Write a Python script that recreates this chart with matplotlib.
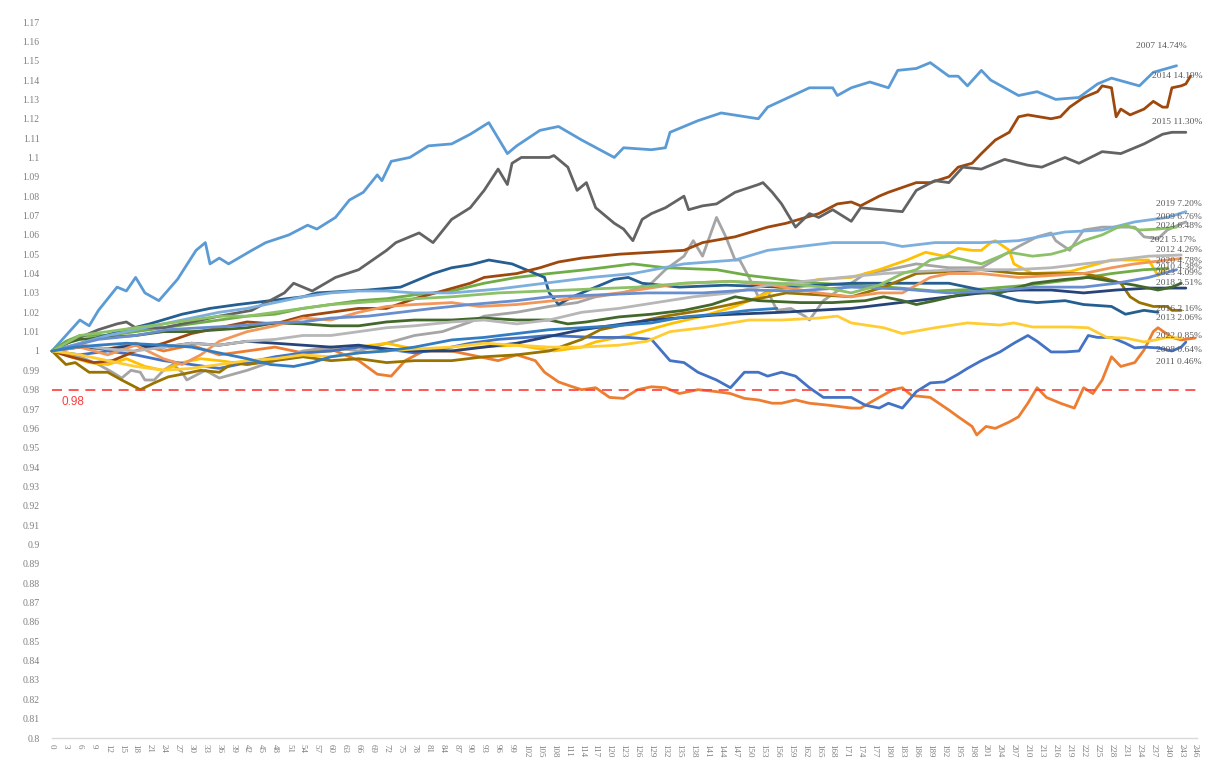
import matplotlib
matplotlib.use("Agg")
import matplotlib.pyplot as plt

# ---------------- data: (trading day, cumulative value) ----------------
y2007 = [(0,1.0),(6,1.016),(8,1.013),(10,1.021),(14,1.033),(16,1.031),(18,1.038),(20,1.03),(23,1.026),(27,1.037),
         (31,1.052),(33,1.056),(34,1.045),(36,1.048),(38,1.045),(43,1.052),(46,1.056),(51,1.06),(55,1.065),(57,1.063),
         (61,1.069),(64,1.078),(67,1.082),(70,1.091),(71,1.088),(73,1.098),(77,1.1),(81,1.106),(86,1.107),(90,1.112),
         (94,1.118),(98,1.102),(100,1.106),(105,1.114),(109,1.116),(114,1.109),(121,1.1),(123,1.105),(129,1.104),(132,1.105),
         (133,1.113),(139,1.119),(144,1.123),(152,1.12),(154,1.126),(163,1.136),(168,1.136),(169,1.132),(172,1.136),(176,1.139),
         (180,1.136),(182,1.145),(186,1.146),(189,1.149),(193,1.142),(195,1.142),(197,1.137),(200,1.145),(202,1.14),(208,1.132),
         (212,1.134),(216,1.13),(221,1.131),(225,1.138),(228,1.141),(234,1.137),(237,1.144),(242,1.1474)]
y2008 = [(0,1.0),(6,1.003),(12,1.001),(18,1.004),(24,1.0),(30,1.003),(36,0.998),(42,1.0),(48,1.002),(54,0.999),
         (60,1.001),(66,0.995),(70,0.988),(73,0.987),(76,0.995),(80,1.0),(86,1.0),(96,0.995),(100,0.998),(104,0.995),
         (106,0.989),(109,0.984),(112,0.9815),(114,0.98),(117,0.981),(120,0.976),(123,0.9755),(126,0.98),(129,0.9815),(132,0.981),
         (135,0.978),(139,0.98),(143,0.979),(146,0.978),(149,0.9755),(152,0.9747),(155,0.973),(157,0.973),(160,0.9747),(163,0.973),
         (167,0.972),(172,0.9705),(174,0.9705),(178,0.976),(181,0.98),(183,0.981),(185,0.977),(189,0.976),(193,0.9695),(195,0.966),
         (198,0.961),(199,0.9566),(201,0.961),(203,0.96),(206,0.9633),(208,0.966),(210,0.973),(212,0.981),(214,0.976),(217,0.973),
         (220,0.9705),(222,0.981),(224,0.978),(226,0.985),(228,0.997),(230,0.992),(233,0.994),(235,1.0005),(237,1.01),(238,1.012),
         (241,1.007),(243,1.0057),(246,1.0067)]
y2009 = [(0,1.0),(6,0.997),(10,0.993),(13,0.989),(15,0.986),(17,0.99),(19,0.989),(20,0.985),(22,0.985),(24,0.99),
         (26,0.993),(28,0.989),(29,0.985),(33,0.99),(36,0.986),(39,0.988),(42,0.99),(48,0.995),(54,1.0),(60,1.002),
         (66,1.0),(72,1.004),(78,1.008),(84,1.01),(90,1.015),(93,1.018),(100,1.02),(107,1.023),(113,1.025),(117,1.028),
         (123,1.03),(129,1.035),(132,1.042),(136,1.049),(138,1.057),(140,1.049),(143,1.069),(145,1.059),(147,1.047),(148,1.047),
         (150,1.038),(152,1.028),(154,1.031),(156,1.021),(159,1.022),(162,1.018),(163,1.016),(166,1.026),(169,1.031),(172,1.035),
         (175,1.04),(180,1.042),(186,1.045),(193,1.043),(200,1.043),(208,1.054),(212,1.059),(215,1.061),(216,1.057),(219,1.052),
         (222,1.0625),(226,1.064),(233,1.064),(235,1.059),(238,1.058),(240,1.0625),(244,1.0667)]
y2010 = [(0,1.0),(4,0.997),(8,0.994),(12,0.993),(16,0.996),(20,0.992),(24,0.99),(28,0.994),(32,0.996),(36,0.995),
         (42,0.993),(48,0.996),(54,0.999),(60,1.0),(66,1.002),(72,1.004),(78,1.001),(86,1.0),(92,1.002),(100,1.003),
         (108,1.0),(114,1.002),(117,1.0047),(124,1.008),(133,1.014),(140,1.018),(147,1.023),(155,1.031),(165,1.037),(172,1.038),
         (178,1.042),(184,1.047),(188,1.051),(192,1.049),(195,1.053),(198,1.052),(200,1.052),(202,1.056),(203,1.057),(206,1.052),
         (207,1.045),(211,1.04),(219,1.041),(222,1.043),(228,1.047),(233,1.047),(236,1.047),(238,1.039),(240,1.043)]
y2011 = [(0,1.0),(6,0.998),(12,1.0),(18,0.998),(24,0.995),(30,0.993),(36,0.991),(42,0.994),(48,0.997),(54,0.999),
         (60,1.0),(66,1.002),(72,1.001),(78,0.999),(84,1.001),(90,1.004),(96,1.006),(102,1.007),(107,1.008),(117,1.007),
         (124,1.007),(129,1.006),(133,0.995),(136,0.994),(139,0.989),(143,0.985),(146,0.981),(149,0.989),(152,0.989),(154,0.987),
         (157,0.989),(160,0.987),(163,0.981),(166,0.976),(172,0.976),(175,0.972),(178,0.9705),(180,0.973),(183,0.9705),(186,0.979),
         (189,0.9835),(192,0.984),(195,0.988),(197,0.991),(200,0.995),(204,0.9995),(207,1.004),(210,1.008),(212,1.005),(215,0.9995),
         (218,0.9995),(221,1.0),(223,1.008),(225,1.007),(228,1.007),(231,1.004),(233,1.0016),(235,1.002),(238,1.0016),(241,1.0),
         (243,1.002),(244,1.0046)]
y2012 = [(0,1.0),(3,1.005),(6,1.008),(12,1.008),(18,1.01),(24,1.012),(30,1.014),(36,1.016),(42,1.018),(48,1.019),
         (54,1.022),(60,1.024),(66,1.026),(72,1.027),(78,1.029),(86,1.031),(93,1.035),(100,1.038),(107,1.04),(115,1.042),
         (125,1.045),(132,1.043),(143,1.042),(150,1.039),(157,1.037),(165,1.035),(172,1.034),(180,1.033),(190,1.031),(200,1.032),
         (210,1.034),(220,1.037),(228,1.04),(235,1.042),(240,1.0426)]
y2013 = [(0,1.0),(5,1.003),(10,1.007),(16,1.011),(21,1.014),(28,1.019),(34,1.022),(40,1.024),(47,1.026),(54,1.028),
         (57,1.03),(68,1.0315),(75,1.033),(82,1.04),(86,1.043),(90,1.0445),(94,1.047),(99,1.045),(103,1.041),(106,1.038),
         (107,1.03),(109,1.024),(112,1.028),(121,1.037),(124,1.038),(127,1.035),(135,1.033),(145,1.034),(157,1.033),(165,1.034),
         (172,1.035),(180,1.035),(193,1.035),(200,1.0315),(208,1.026),(212,1.025),(218,1.026),(222,1.024),(228,1.023),(231,1.019),
         (235,1.021),(238,1.02)]
y2014 = [(0,1.0),(4,0.997),(9,0.994),(13,0.995),(18,1.0),(24,1.004),(30,1.009),(36,1.012),(42,1.015),(48,1.014),
         (54,1.018),(60,1.02),(66,1.022),(72,1.022),(78,1.027),(84,1.031),(90,1.035),(93,1.038),(100,1.04),(105,1.043),
         (109,1.046),(114,1.048),(122,1.05),(129,1.051),(136,1.052),(140,1.056),(147,1.059),(154,1.064),(158,1.066),(165,1.071),
         (169,1.076),(172,1.077),(174,1.075),(178,1.08),(180,1.082),(186,1.087),(189,1.087),(193,1.09),(195,1.095),(198,1.097),
         (200,1.102),(203,1.109),(206,1.113),(208,1.121),(210,1.122),(215,1.12),(217,1.121),(219,1.126),(222,1.131),(225,1.134),
         (226,1.137),(228,1.136),(229,1.121),(230,1.125),(232,1.122),(235,1.125),(237,1.129),(239,1.126),(240,1.126),(241,1.136),
         (243,1.137),(244,1.138),(245,1.142)]
y2015 = [(0,1.0),(5,1.006),(10,1.011),(14,1.014),(16,1.015),(18,1.012),(24,1.012),(30,1.015),(36,1.018),(43,1.021),
         (50,1.03),(52,1.035),(56,1.031),(61,1.038),(66,1.042),(72,1.052),(74,1.056),(79,1.061),(82,1.056),(86,1.068),
         (90,1.074),(93,1.083),(96,1.094),(98,1.086),(99,1.097),(101,1.1),(107,1.1),(108,1.101),(111,1.095),(113,1.083),
         (115,1.087),(117,1.074),(119,1.07),(121,1.066),(123,1.063),(125,1.057),(127,1.068),(129,1.071),(132,1.074),(136,1.08),
         (137,1.073),(140,1.075),(143,1.076),(147,1.082),(152,1.086),(153,1.087),(155,1.082),(157,1.076),(160,1.064),(163,1.071),
         (165,1.069),(168,1.073),(172,1.067),(174,1.074),(183,1.072),(186,1.083),(190,1.088),(193,1.087),(196,1.095),(200,1.094),
         (205,1.099),(210,1.096),(213,1.095),(218,1.1),(221,1.097),(226,1.103),(230,1.102),(235,1.107),(239,1.112),(241,1.113),
         (244,1.113)]
y2016 = [(0,1.0),(3,0.993),(5,0.994),(8,0.989),(12,0.989),(15,0.985),(19,0.98),(22,0.9835),(25,0.9866),(28,0.988),
         (32,0.99),(36,0.989),(39,0.994),(42,0.993),(48,0.995),(54,0.997),(60,0.995),(66,0.996),(72,0.994),(78,0.995),
         (86,0.995),(93,0.997),(100,0.998),(107,1.0),(114,1.006),(118,1.011),(125,1.0145),(132,1.018),(140,1.021),(150,1.026),
         (158,1.03),(165,1.029),(172,1.028),(179,1.033),(186,1.04),(193,1.041),(200,1.042),(208,1.04),(215,1.04),(222,1.04),
         (226,1.038),(230,1.035),(232,1.028),(234,1.025),(237,1.023),(240,1.023),(241,1.021),(243,1.021)]
y2017 = [(0,1.0),(6,1.002),(12,1.001),(18,1.003),(24,1.002),(30,1.004),(36,1.003),(42,1.005),(48,1.004),(54,1.003),
         (60,1.002),(66,1.003),(72,1.001),(78,1.0),(86,1.0),(100,1.004),(114,1.011),(129,1.016),(143,1.0186),(157,1.02),
         (172,1.022),(186,1.026),(193,1.028),(200,1.03),(208,1.0315),(215,1.0315),(222,1.03),(229,1.0315),(236,1.0325),(244,1.0325)]
y2018 = [(0,1.0),(3,1.004),(6,1.006),(12,1.007),(18,1.008),(24,1.01),(30,1.01),(36,1.011),(42,1.012),(48,1.0145),
         (54,1.014),(60,1.013),(66,1.013),(72,1.015),(78,1.016),(86,1.016),(93,1.017),(100,1.016),(107,1.016),(111,1.014),
         (115,1.015),(122,1.0176),(129,1.019),(136,1.021),(142,1.024),(147,1.028),(152,1.026),(161,1.025),(168,1.025),(175,1.026),
         (179,1.028),(183,1.026),(186,1.024),(190,1.026),(197,1.03),(204,1.03),(211,1.035),(218,1.037),(223,1.038),(228,1.036),
         (233,1.034),(238,1.0315),(241,1.033),(243,1.035)]
y2019 = [(0,1.0),(6,1.004),(12,1.008),(18,1.011),(24,1.014),(30,1.017),(36,1.02),(42,1.022),(48,1.025),(54,1.028),
         (60,1.03),(66,1.031),(72,1.031),(78,1.03),(86,1.03),(96,1.032),(106,1.035),(116,1.038),(125,1.04),(136,1.045),
         (147,1.047),(154,1.052),(161,1.054),(168,1.056),(172,1.056),(179,1.056),(183,1.054),(190,1.056),(200,1.056),(208,1.057),
         (218,1.0615),(226,1.0625),(233,1.0667),(240,1.069),(244,1.072)]
y2020 = [(0,1.0),(6,1.002),(12,0.998),(18,1.003),(24,0.996),(28,0.993),(32,0.998),(36,1.005),(42,1.01),(48,1.013),
         (54,1.017),(60,1.016),(66,1.02),(72,1.023),(78,1.024),(86,1.025),(92,1.023),(100,1.024),(108,1.026),(115,1.028),
         (122,1.03),(130,1.033),(136,1.035),(146,1.036),(155,1.034),(165,1.03),(172,1.028),(178,1.03),(183,1.03),(189,1.038),
         (193,1.04),(200,1.04),(208,1.038),(215,1.039),(222,1.04),(228,1.043),(233,1.045),(240,1.047),(243,1.0478)]
y2021 = [(0,1.0),(6,1.003),(12,1.001),(18,1.0),(24,1.002),(30,1.004),(36,1.003),(42,1.005),(48,1.006),(54,1.008),
         (60,1.008),(66,1.01),(72,1.012),(78,1.013),(86,1.015),(93,1.016),(100,1.014),(107,1.016),(114,1.02),(122,1.022),
         (130,1.025),(138,1.028),(146,1.03),(154,1.034),(162,1.036),(170,1.038),(179,1.04),(186,1.041),(195,1.042),(207,1.042),
         (215,1.043),(222,1.045),(229,1.047),(236,1.049),(243,1.0496)]
y2022 = [(0,1.0),(6,0.998),(12,0.995),(18,0.992),(24,0.99),(30,0.991),(36,0.993),(42,0.995),(48,0.996),(54,0.998),
         (60,0.997),(66,0.999),(72,1.0),(78,1.001),(86,1.002),(93,1.004),(100,1.003),(107,1.002),(114,1.002),(122,1.003),
         (128,1.005),(133,1.01),(140,1.012),(150,1.016),(157,1.016),(165,1.017),(169,1.018),(172,1.0145),(179,1.012),(183,1.009),
         (190,1.012),(197,1.0145),(204,1.0134),(207,1.0145),(211,1.0124),(219,1.0124),(223,1.012),(227,1.007),(231,1.0067),(235,1.0047),
         (237,1.0055),(240,1.007),(243,1.0067)]
y2023 = [(0,1.0),(5,1.003),(10,1.006),(18,1.008),(25,1.011),(32,1.012),(40,1.013),(47,1.0145),(54,1.015),(60,1.017),
         (68,1.018),(75,1.02),(82,1.022),(90,1.024),(100,1.026),(107,1.028),(118,1.029),(128,1.03),(140,1.03),(150,1.0315),
         (160,1.031),(172,1.033),(183,1.032),(193,1.03),(202,1.031),(212,1.033),(222,1.033),(229,1.035),(236,1.038),(242,1.042)]
y2024 = [(0,1.0),(3,1.004),(6,1.008),(12,1.01),(18,1.012),(24,1.014),(30,1.016),(36,1.018),(42,1.018),(48,1.02),
         (54,1.022),(60,1.024),(66,1.025),(72,1.026),(78,1.027),(86,1.028),(96,1.03),(106,1.031),(116,1.032),(126,1.033),
         (136,1.035),(146,1.036),(156,1.035),(166,1.033),(172,1.03),(178,1.034),(183,1.04),(186,1.042),(189,1.047),(193,1.049),
         (200,1.045),(206,1.051),(211,1.049),(215,1.05),(218,1.052),(222,1.057),(226,1.06),(229,1.0635),(231,1.065),(234,1.0625),
         (238,1.063),(242,1.064)]
y2025 = [(0,1.0),(5,1.002),(10,1.003),(16,1.004),(24,1.003),(30,1.002),(36,0.999),(42,0.996),(47,0.993),(52,0.992),
         (56,0.994),(60,0.997),(66,0.999),(72,1.0),(78,1.002),(86,1.0057),(93,1.007),(100,1.009),(107,1.011),(114,1.012),
         (121,1.013),(129,1.0145),(136,1.0176),(143,1.019),(150,1.021),(156,1.022)]

series_years = ["2007","2008","2009","2010","2011","2012","2013","2014","2015","2016",
                "2017","2018","2019","2020","2021","2022","2023","2024","2025"]
series_data = [y2007,y2008,y2009,y2010,y2011,y2012,y2013,y2014,y2015,y2016,
               y2017,y2018,y2019,y2020,y2021,y2022,y2023,y2024,y2025]
series_colors = ["#5B9BD5","#ED7D31","#A5A5A5","#FFC000","#4472C4","#70AD47",
                 "#255E91","#9E480E","#636363","#997300","#264478","#43682B",
                 "#7CAFDD","#F1975A","#B7B7B7","#FFCD33","#698ED0","#8CC168","#327DC2"]

# end labels: text, day, value (label anchor positions as shown)
end_labels = [("2007 14.74%",233.3,1.1574),("2014 14.19%",236.7,1.1419),("2015 11.30%",236.7,1.1181),
              ("2019 7.20%",237.6,1.0760),("2009 6.76%",237.6,1.0693),("2024 6.48%",237.6,1.0648),
              ("2021 5.17%",236.3,1.0574),("2012 4.26%",237.6,1.0522),("2020 4.78%",237.6,1.0465),
              ("2010 4.38%",237.6,1.0434),("2023 4.09%",237.6,1.0403),("2018 3.51%",237.6,1.0351),
              ("2016 2.16%",237.6,1.0217),("2013 2.06%",237.6,1.0171),("2022 0.85%",237.6,1.0078),
              ("2008 0.64%",237.6,1.0005),("2011 0.46%",237.6,0.9943)]

threshold = 0.98
x_ticks = list(range(0, 247, 3))
y_ticks = [round(0.80 + 0.01 * i, 2) for i in range(38)]

# ---------------- figure ----------------
fig = plt.figure(figsize=(12.15, 7.62), dpi=100)
ax = fig.add_axes([52/1215, 24/762, (1197-52)/1215, (738-22)/762])

for yr, data, col in zip(series_years, series_data, series_colors):
    xs = [p[0] for p in data]
    vs = [p[1] for p in data]
    ax.plot(xs, vs, color=col, lw=2.0, solid_joinstyle="round", solid_capstyle="round", clip_on=False)

ax.axhline(threshold, xmin=0, xmax=1.0, color="#FF3B3B", lw=1.2, dashes=(6, 4))
ax.text(2, threshold - 0.0035, "0.98", color="#FF3B3B", fontsize=8.5,
        family=["Liberation Sans", "DejaVu Sans"], va="top", ha="left")

for txt, dx, vy in end_labels:
    ax.text(dx, vy, txt, fontsize=6.8, color="#595959", family=["Liberation Serif", "DejaVu Serif"],
            ha="left", va="center", clip_on=False)

ax.set_xlim(0, 246.4)
ax.set_ylim(0.8, 1.17)
ax.set_xticks(x_ticks)
ax.set_xticklabels([str(t) for t in x_ticks], rotation=-90, fontsize=6.5,
                   family=["Liberation Serif", "DejaVu Serif"], color="#7F7F7F")
ax.set_yticks(y_ticks)
ax.set_yticklabels([f"{t:.2f}".rstrip("0").rstrip(".") for t in y_ticks], fontsize=7,
                   family=["Liberation Serif", "DejaVu Serif"], color="#7F7F7F")
ax.tick_params(axis="both", length=0)
ax.tick_params(axis="y", pad=9)
ax.tick_params(axis="x", pad=4)
for s in ["top", "right", "left"]:
    ax.spines[s].set_visible(False)
ax.spines["bottom"].set_color("#D9D9D9")
ax.spines["bottom"].set_linewidth(1.0)

fig.savefig("out.png", dpi=100, facecolor="white")
